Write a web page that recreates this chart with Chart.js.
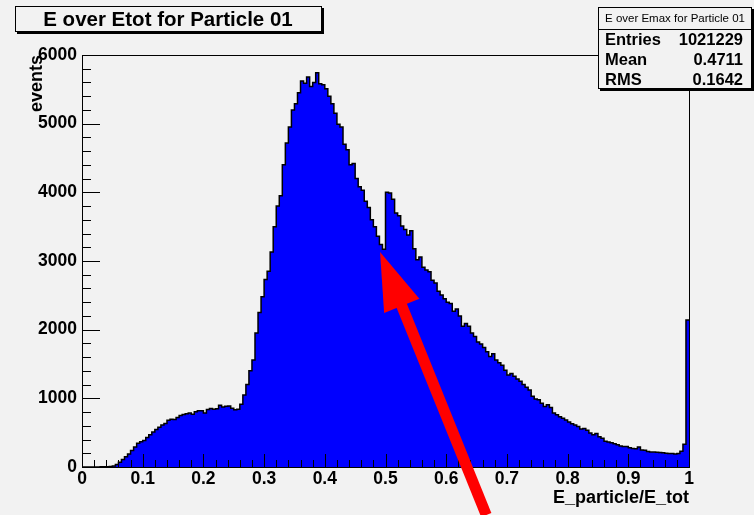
<!DOCTYPE html>
<html>
<head>
<meta charset="utf-8">
<script src="https://cdn.jsdelivr.net/npm/chart.js@4.4.1/dist/chart.umd.min.js"></script>
<style>
  html, body { margin: 0; padding: 0; background: #f2f2f2; }
  #wrap { width: 754px; height: 515px; }
</style>
</head>
<body>
<div id="wrap"><canvas id="hist" width="754" height="515"></canvas></div>
<script>
// histogram range and per-bin counts (200 bins of 0.005)
const binLow = 0;
const binHigh = 1;
const counts = [
  0, 0, 0, 0, 0, 1, 2, 3, 5, 8,
  15, 35, 70, 110, 150, 190, 240, 290, 345, 368,
  385, 430, 470, 510, 545, 580, 610, 635, 680, 695,
  690, 720, 750, 765, 775, 785, 770, 805, 820, 818,
  785, 838, 852, 842, 850, 900, 872, 885, 890, 855,
  832, 840, 915, 1050, 1200, 1400, 1560, 1950, 2250, 2480,
  2730, 2850, 3130, 3500, 3800, 3950, 4400, 4720, 4950, 5200,
  5290, 5450, 5620, 5590, 5680, 5540, 5600, 5740, 5580, 5565,
  5510, 5400, 5290, 5150, 4990, 4950, 4700, 4620, 4400, 4420,
  4200, 4080, 4030, 3870, 3780, 3600, 3500, 3360, 3240, 3170,
  4000, 3990, 3900, 3700, 3660, 3510, 3460, 3380, 3440, 3180,
  3020, 3060, 2910, 2870, 2845, 2720, 2680, 2560, 2505, 2450,
  2400, 2380, 2270, 2300, 2200, 2050, 2090, 2050, 1950, 1900,
  1820, 1790, 1740, 1680, 1610, 1650, 1560, 1520, 1480, 1410,
  1340, 1360, 1320, 1280, 1250, 1200, 1160, 1120, 1030, 990,
  980, 930, 880, 905, 865, 785, 760, 730, 710, 685,
  655, 630, 610, 590, 555, 560, 535, 495, 470, 488,
  440, 420, 375, 364, 352, 340, 325, 306, 298, 300,
  280, 268, 266, 292, 248, 244, 226, 218, 218, 215,
  212, 209, 199, 196, 195, 189, 198, 228, 330, 2140
];

// axes
const xRange = [0, 1];
const yRange = [0, 6000];
const xSteps = [0.1, 0.02];   // major, minor
const ySteps = [1000, 200];

// texts
const histTitle = "E over Etot for Particle 01";
const statsTitle = "E over Emax for Particle 01";
const statsLabels = ["Entries", "Mean", "RMS"];
const statsValues = ["1021229", "0.4711", "0.1642"];
const xTitle = "E_particle/E_tot";
const yTitle = "events";

// annotation arrow (data coordinates)
const arrowTip = [0.491, 3130];
const arrowTail = [0.666, -700];

const FONT = "'Liberation Sans', Arial, Helvetica, sans-serif";
const binWidth = (binHigh - binLow) / counts.length;

// one point per bin low edge, plus the closing edge
const points = counts.map((c, i) => ({ x: binLow + i * binWidth, y: c }));
points.push({ x: binHigh, y: counts[counts.length - 1] });

// ROOT style pave with drop shadow
function drawBox(c, x, y, w, h) {
  c.fillStyle = "#000";
  c.fillRect(x + 2, y + 2, w, h);
  c.fillStyle = "#f2f2f2";
  c.fillRect(x, y, w, h);
  c.strokeStyle = "#000";
  c.lineWidth = 1;
  c.strokeRect(x + 0.5, y + 0.5, w - 1, h - 1);
  c.fillStyle = "#000";
}

const rootFrame = {
  id: "rootFrame",
  beforeDraw(chart) {
    const c = chart.ctx;
    c.save();
    c.fillStyle = "#f2f2f2";
    c.fillRect(0, 0, chart.width, chart.height);
    c.restore();
  },
  afterDatasetsDraw(chart) {
    const { ctx: c, chartArea: a, scales: { x, y } } = chart;
    c.save();
    c.strokeStyle = "#000";
    c.lineWidth = 1;
    c.strokeRect(a.left + 0.5, a.top + 0.5, a.right - a.left, a.bottom - a.top);

    c.beginPath();
    const ny = Math.round((yRange[1] - yRange[0]) / ySteps[1]);
    const perY = Math.round(ySteps[0] / ySteps[1]);
    for (let k = 0; k <= ny; k++) {
      const py = Math.round(y.getPixelForValue(yRange[0] + k * ySteps[1])) + 0.5;
      const len = k % perY === 0 ? 18 : 9;
      c.moveTo(a.left, py);
      c.lineTo(a.left + len, py);
    }
    const nx = Math.round((xRange[1] - xRange[0]) / xSteps[1]);
    const perX = Math.round(xSteps[0] / xSteps[1]);
    for (let k = 0; k <= nx; k++) {
      const px = Math.round(x.getPixelForValue(xRange[0] + k * xSteps[1])) + 0.5;
      const len = k % perX === 0 ? 13 : 7;
      c.moveTo(px, a.bottom);
      c.lineTo(px, a.bottom - len);
    }
    c.stroke();
    c.restore();
  },
  afterDraw(chart) {
    const { ctx: c, scales: { x, y } } = chart;
    c.save();
    c.textBaseline = "middle";

    // title box
    drawBox(c, 15, 6, 307, 26);
    c.font = "bold 20.5px " + FONT;
    c.textAlign = "center";
    c.fillText(histTitle, 168, 20);

    // stats box
    drawBox(c, 598, 7, 154, 82);
    c.beginPath();
    c.moveTo(598, 29.5);
    c.lineTo(752, 29.5);
    c.stroke();
    c.font = "11.5px " + FONT;
    c.textAlign = "center";
    c.fillText(statsTitle, 675, 18.5);
    c.font = "bold 16.5px " + FONT;
    const rowY = [40, 60.5, 80];
    statsLabels.forEach((lab, i) => {
      c.textAlign = "left";
      c.fillText(lab, 605, rowY[i]);
      c.textAlign = "right";
      c.fillText(statsValues[i], 743, rowY[i]);
    });

    // red arrow
    const tx = x.getPixelForValue(arrowTip[0]), ty = y.getPixelForValue(arrowTip[1]);
    const bx = x.getPixelForValue(arrowTail[0]), by = y.getPixelForValue(arrowTail[1]);
    const len = Math.hypot(bx - tx, by - ty);
    const ux = (bx - tx) / len, uy = (by - ty) / len;
    const headLen = 58, headHalf = 19;
    const mx = tx + ux * headLen, my = ty + uy * headLen;
    c.strokeStyle = "#ff0000";
    c.lineWidth = 11;
    c.lineCap = "butt";
    c.beginPath();
    c.moveTo(mx - ux * 4, my - uy * 4);
    c.lineTo(bx, by);
    c.stroke();
    c.fillStyle = "#ff0000";
    c.beginPath();
    c.moveTo(tx, ty);
    c.lineTo(mx - uy * headHalf, my + ux * headHalf);
    c.lineTo(mx + uy * headHalf, my - ux * headHalf);
    c.closePath();
    c.fill();
    c.restore();
  }
};

new Chart(document.getElementById("hist"), {
  type: "line",
  data: {
    datasets: [{
      data: points,
      stepped: "before",
      fill: "origin",
      backgroundColor: "#0000ff",
      borderColor: "#000000",
      borderWidth: 1.5,
      pointRadius: 0,
      tension: 0
    }]
  },
  options: {
    responsive: false,
    animation: false,
    devicePixelRatio: 1,
    layout: { padding: { left: 0, right: 65, top: 55, bottom: 0 } },
    plugins: { legend: { display: false }, tooltip: { enabled: false } },
    scales: {
      x: {
        type: "linear",
        min: xRange[0],
        max: xRange[1],
        grid: { display: false, drawTicks: false },
        border: { display: false },
        ticks: {
          stepSize: xSteps[0],
          autoSkip: false,
          maxRotation: 0,
          padding: 2,
          color: "#000",
          font: { family: FONT, size: 17.5, weight: "bold", lineHeight: 1.2 },
          callback: v => String(Math.round(v * 10) / 10)
        },
        title: {
          display: true,
          text: xTitle,
          align: "end",
          color: "#000",
          font: { family: FONT, size: 18, weight: "bold", lineHeight: 1.2 },
          padding: { top: 0, bottom: 6 }
        },
        afterFit: s => { s.height = 48; }
      },
      y: {
        min: yRange[0],
        max: yRange[1],
        grid: { display: false, drawTicks: false },
        border: { display: false },
        ticks: {
          stepSize: ySteps[0],
          autoSkip: false,
          padding: 5,
          color: "#000",
          font: { family: FONT, size: 17.5, weight: "bold", lineHeight: 1.2 },
          callback: v => String(v)
        },
        title: {
          display: true,
          text: yTitle,
          align: "end",
          color: "#000",
          font: { family: FONT, size: 18, weight: "bold", lineHeight: 1.2 },
          padding: { top: 26, bottom: 0 }
        },
        afterFit: s => { s.width = 82; }
      }
    }
  },
  plugins: [rootFrame]
});
</script>
</body>
</html>
